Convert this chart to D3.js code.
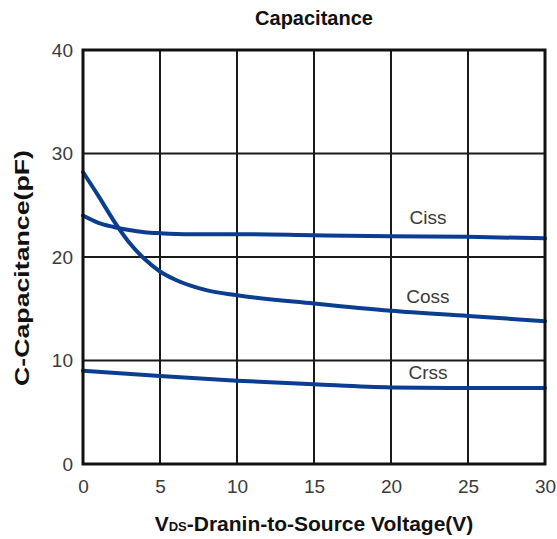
<!DOCTYPE html>
<html>
<head>
<meta charset="utf-8">
<script src="https://cdn.jsdelivr.net/npm/d3@7"></script>
<style>
  html, body { margin: 0; padding: 0; background: #fff; }
  svg { display: block; font-family: "Liberation Sans", Arial, sans-serif; }
</style>
</head>
<body>
<svg id="chart" width="557" height="539"></svg>
<script>
// ---- data ----
const xTicks = [0, 5, 10, 15, 20, 25, 30];
const yTicks = [0, 10, 20, 30, 40];
const seriesNames = ["Ciss", "Coss", "Crss"];
const cissV = [0, 1, 2, 3, 4, 5, 7, 10, 15, 20, 25, 30];
const cissC = [24.0, 23.3, 22.9, 22.6, 22.4, 22.3, 22.2, 22.2, 22.1, 22.0, 21.95, 21.8];
const cossV = [0, 1, 2, 3, 4, 5, 6, 8, 10, 15, 20, 25, 30];
const cossC = [28.2, 25.9, 23.5, 21.4, 19.8, 18.6, 17.8, 16.8, 16.3, 15.5, 14.8, 14.3, 13.8];
const crssV = [0, 5, 10, 15, 20, 25, 30];
const crssC = [9.0, 8.5, 8.05, 7.7, 7.4, 7.35, 7.35];
const labelV = [22.4, 22.4, 22.4];
const labelC = [23.8, 16.2, 8.8];

const svg = d3.select("#chart");
const L = 83, R = 545, T = 50, B = 464;
const x = d3.scaleLinear().domain([0, 30]).range([L, R]);
const y = d3.scaleLinear().domain([0, 40]).range([B, T]);

// grid
svg.append("g").selectAll("line.v").data(xTicks.slice(1, -1)).join("line")
  .attr("x1", d => x(d)).attr("x2", d => x(d)).attr("y1", T).attr("y2", B)
  .attr("stroke", "#1a1a1a").attr("stroke-width", 2);
svg.append("g").selectAll("line.h").data(yTicks.slice(1, -1)).join("line")
  .attr("y1", d => y(d)).attr("y2", d => y(d)).attr("x1", L).attr("x2", R)
  .attr("stroke", "#1a1a1a").attr("stroke-width", 2);

// axes (tick labels)
const xAxis = svg.append("g").attr("transform", `translate(0,${B})`)
  .call(d3.axisBottom(x).tickValues(xTicks).tickSize(0).tickPadding(16));
const yAxis = svg.append("g").attr("transform", `translate(${L},0)`)
  .call(d3.axisLeft(y).tickValues(yTicks).tickSize(0).tickPadding(10));
[xAxis, yAxis].forEach(a => {
  a.select(".domain").remove();
  a.selectAll("text").attr("font-size", 19).attr("fill", "#3a3a3a")
    .attr("font-family", "'Liberation Sans', Arial, sans-serif");
});

// curves
const series = [
  cissV.map((v, i) => [v, cissC[i]]),
  cossV.map((v, i) => [v, cossC[i]]),
  crssV.map((v, i) => [v, crssC[i]])
];
const line = d3.line().x(d => x(d[0])).y(d => y(d[1])).curve(d3.curveMonotoneX);
svg.append("g").selectAll("path").data(series).join("path")
  .attr("d", line).attr("fill", "none")
  .attr("stroke", "#0b3d91").attr("stroke-width", 4)
  .attr("stroke-linecap", "round");

// border
svg.append("rect").attr("x", L).attr("y", T).attr("width", R - L).attr("height", B - T)
  .attr("fill", "none").attr("stroke", "#111").attr("stroke-width", 3);

// series labels
svg.append("g").selectAll("text").data(seriesNames).join("text")
  .attr("x", (d, i) => x(labelV[i])).attr("y", (d, i) => y(labelC[i]))
  .attr("text-anchor", "middle").attr("dominant-baseline", "central")
  .attr("font-size", 19).attr("fill", "#3a3a3a").text(d => d);

// title
svg.append("text").attr("x", (L + R) / 2).attr("y", 25)
  .attr("text-anchor", "middle").attr("font-size", 20).attr("font-weight", "bold")
  .attr("fill", "#111").text("Capacitance");

// x axis title
const xt = svg.append("text").attr("x", (L + R) / 2).attr("y", 531)
  .attr("text-anchor", "middle").attr("font-size", 21).attr("font-weight", "bold")
  .attr("fill", "#111");
xt.append("tspan").text("V");
xt.append("tspan").attr("font-size", 13).text("DS");
xt.append("tspan").text("-Dranin-to-Source Voltage(V)");

// y axis title
svg.append("text").attr("transform", `translate(29,268) rotate(-90)`)
  .attr("text-anchor", "middle").attr("font-size", 21).attr("font-weight", "bold")
  .attr("textLength", 236).attr("lengthAdjust", "spacingAndGlyphs")
  .attr("fill", "#111").text("C-Capacitance(pF)");
</script>
</body>
</html>
